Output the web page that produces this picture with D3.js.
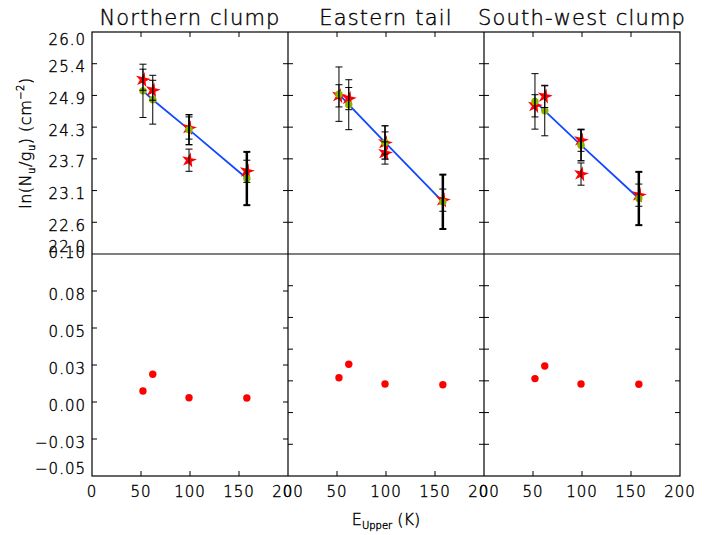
<!DOCTYPE html>
<html>
<head>
<meta charset="utf-8">
<script src="https://cdn.jsdelivr.net/npm/d3@7"></script>
<style>
  body { margin: 0; background: #fff; }
  svg text { font-family: "DejaVu Sans", sans-serif; font-weight: 200; fill: #000; stroke: #000; stroke-width: 0.4; }
</style>
</head>
<body>
<svg id="chart" width="723" height="535"></svg>
<script>
// ---- data -------------------------------------------------------------
const regions = ["Northern clump", "Eastern tail", "South-west clump"];

// upper-level energies (K) of the observed transitions and of the fit points
const lineEnergy = [52, 62, 99, 99, 158];
const fitEnergy = [52, 62, 99, 158];

// observed ln(Nu/gu) with 1-sigma errors, one row per region
const obsNorth = [25.14, 24.95, 24.27, 23.69, 23.49];
const obsEast  = [24.85, 24.80, 24.00, 23.82, 22.97];
const obsSouth = [24.67, 24.84, 24.05, 23.44, 23.06];
const obsErrNorth = [0.19, 0.18, 0.20, 0.20, 0.20];
const obsErrEast  = [0.20, 0.20, 0.20, 0.20, 0.20];
const obsErrSouth = [0.20, 0.20, 0.20, 0.20, 0.20];

// rotation-diagram fit values and their errors
const fitNorth = [24.94, 24.78, 24.24, 23.36];
const fitEast  = [24.88, 24.69, 24.01, 22.94];
const fitSouth = [24.75, 24.58, 23.96, 23.00];
const fitErrNorth = [0.48, 0.44, 0.27, 0.48];
const fitErrEast  = [0.49, 0.45, 0.30, 0.49];
const fitErrSouth = [0.50, 0.45, 0.28, 0.48];

// residuals shown in the lower row
const resNorth = [0.0074, 0.0187, 0.0029, 0.0027];
const resEast  = [0.0164, 0.0255, 0.0122, 0.0117];
const resSouth = [0.0158, 0.0243, 0.0122, 0.0120];

// axes
const xTickValues = [0, 50, 100, 150, 200];
const topDomain = [22, 26];
const topTickLabels = ["26.0", "25.4", "24.9", "24.3", "23.7", "23.1", "22.6", "22.0"];
const bottomDomain = [-0.05, 0.10];
const bottomTickLabels = ["0.10", "0.08", "0.05", "0.03", "0.00", "\u22120.03", "\u22120.05"];

// ---- layout -----------------------------------------------------------
const plotLeft = 92, plotRight = 680, plotTop = 32, plotMid = 254, plotBottom = 476;
const panelW = (plotRight - plotLeft) / 3;
const tickLen = 5;
const fitBarWidths = [1, 1, 1.7, 2.5];
const green = "#8ab400", red = "#ff0000", blue = "#1447ff";

const svg = d3.select("#chart");

const panels = [
  { obs: obsNorth, obsErr: obsErrNorth, fit: fitNorth, fitErr: fitErrNorth, res: resNorth },
  { obs: obsEast,  obsErr: obsErrEast,  fit: fitEast,  fitErr: fitErrEast,  res: resEast },
  { obs: obsSouth, obsErr: obsErrSouth, fit: fitSouth, fitErr: fitErrSouth, res: resSouth }
];

const yTop = d3.scaleLinear().domain(topDomain).range([plotMid, plotTop]);
const yBot = d3.scaleLinear().domain(bottomDomain).range([plotBottom, plotMid]);

const topTicks = d3.range(topTickLabels.length).map(i =>
  topDomain[1] - i * (topDomain[1] - topDomain[0]) / (topTickLabels.length - 1));
const botTicks = d3.range(bottomTickLabels.length).map(i =>
  bottomDomain[1] - i * (bottomDomain[1] - bottomDomain[0]) / (bottomTickLabels.length - 1));
const botTicksAlt = d3.range(8).map(i =>
  bottomDomain[1] - i * (bottomDomain[1] - bottomDomain[0]) / 7);

function errBar(g, x, y, lo, hi, w) {
  g.append("line").attr("x1", x).attr("x2", x).attr("y1", y(lo)).attr("y2", y(hi))
    .attr("stroke", "#000").attr("stroke-width", w);
  [lo, hi].forEach(v => g.append("line")
    .attr("x1", x - 3.5).attr("x2", x + 3.5).attr("y1", y(v)).attr("y2", y(v))
    .attr("stroke", "#000").attr("stroke-width", Math.max(1, w * 0.8)));
}

const star = d3.symbol().type(d3.symbolStar).size(72);

panels.forEach((p, i) => {
  const x0 = plotLeft + i * panelW;
  const x = d3.scaleLinear().domain([0, 200]).range([x0, x0 + panelW]);
  const g = svg.append("g");

  // x ticks on the outer top and bottom edges
  xTickValues.slice(1, -1).forEach(t => {
    g.append("line").attr("x1", x(t)).attr("x2", x(t)).attr("y1", plotTop).attr("y2", plotTop + tickLen)
      .attr("stroke", "#000");
    g.append("line").attr("x1", x(t)).attr("x2", x(t)).attr("y1", plotBottom).attr("y2", plotBottom - tickLen)
      .attr("stroke", "#000");
  });
  // y ticks on both sides of each panel
  const drawY = (ticks, y) => ticks.slice(1, -1).forEach(t => {
    g.append("line").attr("x1", x0).attr("x2", x0 + tickLen).attr("y1", y(t)).attr("y2", y(t)).attr("stroke", "#000");
    g.append("line").attr("x1", x0 + panelW).attr("x2", x0 + panelW - tickLen).attr("y1", y(t)).attr("y2", y(t)).attr("stroke", "#000");
  });
  drawY(topTicks, yTop);
  drawY(i === 0 ? botTicks : botTicksAlt, yBot);

  // fit line
  g.append("path")
    .datum(fitEnergy.map((e, k) => [e, p.fit[k]]))
    .attr("fill", "none").attr("stroke", blue).attr("stroke-width", 1.8)
    .attr("d", d3.line().x(d => x(d[0])).y(d => yTop(d[1])));

  // observed points
  lineEnergy.forEach((e, k) => {
    g.append("path").attr("d", star)
      .attr("transform", `translate(${x(e)},${yTop(p.obs[k])}) rotate(12)`)
      .attr("fill", red);
  });
  // fit points
  fitEnergy.forEach((e, k) => {
    g.append("circle").attr("cx", x(e)).attr("cy", yTop(p.fit[k])).attr("r", 3.7).attr("fill", green);
  });
  // error bars
  fitEnergy.forEach((e, k) => errBar(g, x(e), yTop, p.fit[k] - p.fitErr[k], p.fit[k] + p.fitErr[k], fitBarWidths[k]));
  lineEnergy.forEach((e, k) => errBar(g, x(e), yTop, p.obs[k] - p.obsErr[k], p.obs[k] + p.obsErr[k], 1));

  // residuals
  fitEnergy.forEach((e, k) => {
    g.append("circle").attr("cx", x(e)).attr("cy", yBot(p.res[k])).attr("r", 3.7).attr("fill", red);
  });

  // title
  svg.append("text").attr("x", x0 + panelW / 2).attr("y", 25).attr("text-anchor", "middle")
    .attr("font-size", 21).attr("letter-spacing", 1.2).text(regions[i]);

  // x tick labels
  xTickValues.forEach(t => {
    svg.append("text").attr("x", x(t)).attr("y", 497).attr("text-anchor", "middle")
      .attr("font-size", 15).attr("letter-spacing", 1).text(t);
  });
});

// y tick labels, kept inside the frame at the ends
const fs = 15;
topTicks.forEach((t, k) => {
  let cy = yTop(t) + 3;
  cy = Math.min(Math.max(cy, plotTop + 8), plotMid - 7);
  svg.append("text").attr("x", 86).attr("y", cy + 0.36 * fs).attr("text-anchor", "end")
    .attr("font-size", fs).attr("letter-spacing", 1).text(topTickLabels[k]);
});
botTicks.forEach((t, k) => {
  let cy = k === 0 ? yBot(t) - 1 : yBot(t) + 4;
  cy = Math.min(cy, plotBottom - 7);
  svg.append("text").attr("x", 86).attr("y", cy + 0.36 * fs).attr("text-anchor", "end")
    .attr("font-size", fs).attr("letter-spacing", 1).text(bottomTickLabels[k]);
});

// panel frames
const frame = svg.append("g").attr("fill", "none").attr("stroke", "#000").attr("stroke-width", 1.2);
frame.append("rect").attr("x", plotLeft).attr("y", plotTop).attr("width", plotRight - plotLeft).attr("height", plotBottom - plotTop);
frame.append("line").attr("x1", plotLeft).attr("x2", plotRight).attr("y1", plotMid).attr("y2", plotMid);
[1, 2].forEach(k => frame.append("line")
  .attr("x1", plotLeft + k * panelW).attr("x2", plotLeft + k * panelW).attr("y1", plotTop).attr("y2", plotBottom));

// axis titles
const xt = svg.append("text").attr("x", (plotLeft + plotRight) / 2).attr("y", 525).attr("text-anchor", "middle")
  .attr("font-size", 16);
xt.append("tspan").text("E");
xt.append("tspan").attr("font-size", 10).attr("dy", 4).text("Upper");
xt.append("tspan").attr("dy", -4).text(" (K)");

const yt = svg.append("text").attr("transform", `translate(31,${(plotTop + plotMid) / 2}) rotate(-90)`)
  .attr("text-anchor", "middle").attr("font-size", 16).attr("letter-spacing", 0.5);
yt.append("tspan").text("ln(N");
yt.append("tspan").attr("font-size", 10).attr("dy", 4).text("u");
yt.append("tspan").attr("dy", -4).text("/g");
yt.append("tspan").attr("font-size", 10).attr("dy", 4).text("u");
yt.append("tspan").attr("dy", -4).text(") (cm");
yt.append("tspan").attr("font-size", 10).attr("dy", -7).text("\u22122");
yt.append("tspan").attr("dy", 7).text(")");
</script>
</body>
</html>
